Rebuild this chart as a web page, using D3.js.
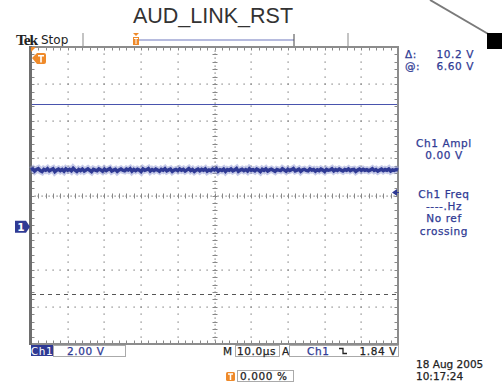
<!DOCTYPE html>
<html>
<head>
<meta charset="utf-8">
<script src="https://cdn.jsdelivr.net/npm/d3@7"></script>
<style>
  html, body { margin: 0; padding: 0; background: #fff; }
  svg { display: block; }
  .scr { font-family: "DejaVu Sans", sans-serif; font-size: 10.5px; letter-spacing: 0.6px; }
  .scr text { stroke-width: 0.25px; }
  .scr text.stamp { letter-spacing: 0px; }
</style>
</head>
<body>
<svg id="chart" width="502" height="384"></svg>
<script>
// ---- acquisition settings ----
const title = "AUD_LINK_RST";
const voltsPerDiv = 2.0;          // Ch1 scale
const timePerDiv = 10.0;          // µs
const groundOffsetDiv = -0.84;    // Ch1 ground position relative to screen centre
const triggerLevel = 1.84;        // V
const cursorAt = 6.60;            // V, active cursor
const cursorDelta = 10.2;         // V, distance to second cursor
const ampl = "0.00 V";

// ---- captured samples (µs spacing = 0.5, volts) ----
const traceV = [3.05,3.11,3.00,3.08,3.13,3.02,2.97,3.09,3.04,3.12,
                3.01,3.07,3.12,2.97,3.05,3.10,3.02,3.08,2.99,3.11,
                3.04,3.09,3.01,3.14,3.05,2.98,3.08,3.02,3.10,3.00,
                3.06,3.12,3.04,2.97,3.09,3.05,3.01,3.11,3.06,2.99,
                3.10,3.02,3.08,3.13,3.00,3.05,3.09,2.98,3.06,3.11,
                3.04,3.01,3.10,3.05,3.12,2.99,3.08,3.02,3.09,3.05,
                2.97,3.11,3.04,3.07,3.13,3.00,3.08,3.02,3.10,3.05,
                2.99,3.09,3.04,3.12,3.01,3.06,3.10,2.98,3.05,3.08,
                3.02,3.11,3.04,3.09,3.00,3.06,3.13,3.02,3.08,2.98,
                3.05,3.10,3.01,3.09,3.04,3.11,2.99,3.06,3.02,3.10,
                3.05,3.12,2.99,3.07,3.03,3.10,2.98,3.08,3.04,3.11,
                3.01,3.06,3.13,2.98,3.05,3.09,3.02,3.08,3.00,3.12,
                3.04,3.07,3.01,3.10,3.05,2.97,3.09,3.03,3.11,3.00,
                3.06,3.10,3.04,2.98,3.08,3.05,3.02,3.12,3.06,2.99,
                3.09,3.03,3.07,3.13,3.01,3.05,3.10,2.98,3.06,3.09,
                3.03,3.01,3.11,3.05,3.08,2.99,3.07,3.02,3.10,3.05,
                2.98,3.09,3.04,3.06,3.12,3.01,3.08,3.03,3.10,3.05,
                3.00,3.08,3.04,3.11,3.02,3.07,3.09,2.98,3.05,3.10,
                3.03,3.09,3.04,3.07,3.01,3.06,3.12,3.03,3.08,2.99,
                3.05,3.10,3.02,3.08,3.04,3.11,3.00,3.06,3.03,3.09,3.05];

// ---- readouts ----
const rightReadouts = [
  ["Ch1 Ampl", ampl],
  ["Ch1 Freq", "----.Hz", "No ref", "crossing"]
];
const dateText = "18 Aug 2005";
const timeText = "10:17:24";
const triggerPosText = "0.000 %";

const BLUE = "#2f3a94";
const ORANGE = "#ef8a2a";
const GRAY = "#8c8c8c";

const svg = d3.select("#chart");
svg.append("rect").attr("width", 502).attr("height", 384).attr("fill", "#fff");

// graticule frame
const L = 31, R = 398, T = 47, B = 344;
const nx = 10, ny = 8;
const gx = d3.scaleLinear().domain([0, nx]).range([L, R]);
const gy = d3.scaleLinear().domain([0, ny]).range([T, B]);

// data scales
const x = d3.scaleLinear().domain([0, nx * timePerDiv]).range([L, R]);
const vTop = (ny / 2 - groundOffsetDiv) * voltsPerDiv;
const y = d3.scaleLinear().domain([vTop - ny * voltsPerDiv, vTop]).range([B, T]);

// title and decoration
svg.append("text").attr("x", 213).attr("y", 23).attr("text-anchor", "middle")
  .attr("font-family", "Liberation Sans, Arial, sans-serif").attr("font-size", 21.5)
  .attr("fill", "#333").text(title);
svg.append("line").attr("x1", 430).attr("y1", 0).attr("x2", 490).attr("y2", 35)
  .attr("stroke", "#7a7a7a").attr("stroke-width", 2);
svg.append("rect").attr("x", 487).attr("y", 33).attr("width", 15).attr("height", 16).attr("fill", "#000");

// status line
svg.append("text").attr("x", 16).attr("y", 44.5)
  .attr("font-family", "Liberation Serif, serif").attr("font-weight", "bold")
  .attr("font-size", 15.5).attr("letter-spacing", -1.2).attr("fill", "#222").text("Tek");
svg.append("text").attr("x", 41).attr("y", 44)
  .attr("font-family", "DejaVu Sans, sans-serif").attr("font-size", 12)
  .attr("fill", "#222").text("Stop");
[83, 348].forEach(px => svg.append("line").attr("x1", px).attr("x2", px)
  .attr("y1", 33).attr("y2", 46).attr("stroke", "#c4c4c4").attr("stroke-width", 2));
svg.append("line").attr("x1", 138).attr("x2", 294).attr("y1", 40).attr("y2", 40)
  .attr("stroke", "#6f78be").attr("stroke-width", 1.2);
svg.append("line").attr("x1", 294).attr("x2", 294).attr("y1", 34).attr("y2", 46)
  .attr("stroke", "#444").attr("stroke-width", 1);
const rv = svg.append("g").attr("transform", "translate(133,33)");
rv.append("path").attr("d", "M0,0 H6 L3,3 Z").attr("fill", ORANGE);
rv.append("rect").attr("x", 0).attr("y", 4).attr("width", 6).attr("height", 8).attr("fill", ORANGE);
rv.append("path").attr("d", "M1,5.5 H5 M3,5.5 V11").attr("stroke", "#fff").attr("stroke-width", 1);

// graticule
const grid = svg.append("g");
const minorX = d3.range(0, nx * 5 + 1).map(i => i / 5);
const minorY = d3.range(0, ny * 5 + 1).map(i => i / 5);
const halfX = d3.range(0, nx * 10 + 1).map(i => i / 10);
const halfY = d3.range(0, ny * 10 + 1).map(i => i / 10);

d3.range(1, nx).filter(i => i !== nx / 2).forEach(i => {
  grid.selectAll(null).data(minorY.slice(1, -1)).join("rect")
    .attr("x", Math.round(gx(i)) - 0.5).attr("y", d => Math.round(gy(d)) - 0.5)
    .attr("width", 1.2).attr("height", 1.2).attr("fill", "#777");
});
d3.range(1, ny).filter(i => i !== ny / 2).forEach(i => {
  grid.selectAll(null).data(minorX.slice(1, -1)).join("rect")
    .attr("x", d => Math.round(gx(d)) - 0.5).attr("y", Math.round(gy(i)) - 0.5)
    .attr("width", 1.2).attr("height", 1.2).attr("fill", "#777");
});
// centre cross with ticks
const cx = Math.round(gx(nx / 2)), cy = Math.round(gy(ny / 2));
grid.selectAll(null).data(halfY).join("rect")
  .attr("x", cx - 0.5).attr("y", d => Math.round(gy(d)) - 0.5)
  .attr("width", 1.2).attr("height", 1.2).attr("fill", "#777");
grid.selectAll(null).data(halfX).join("rect")
  .attr("x", d => Math.round(gx(d)) - 0.5).attr("y", cy - 0.5)
  .attr("width", 1.2).attr("height", 1.2).attr("fill", "#777");
grid.selectAll(null).data(minorY).join("line")
  .attr("x1", cx - 2.5).attr("x2", cx + 2.5)
  .attr("y1", d => Math.round(gy(d)) + 0.5).attr("y2", d => Math.round(gy(d)) + 0.5)
  .attr("stroke", "#888").attr("stroke-width", 1);
grid.selectAll(null).data(minorX).join("line")
  .attr("y1", cy - 2.5).attr("y2", cy + 2.5)
  .attr("x1", d => Math.round(gx(d)) + 0.5).attr("x2", d => Math.round(gx(d)) + 0.5)
  .attr("stroke", "#888").attr("stroke-width", 1);
// border ticks
grid.selectAll(null).data(minorX).join("line")
  .attr("x1", d => Math.round(gx(d)) + 0.5).attr("x2", d => Math.round(gx(d)) + 0.5)
  .attr("y1", T).attr("y2", T + 3.5).attr("stroke", "#888");
grid.selectAll(null).data(minorX).join("line")
  .attr("x1", d => Math.round(gx(d)) + 0.5).attr("x2", d => Math.round(gx(d)) + 0.5)
  .attr("y1", B).attr("y2", B - 3.5).attr("stroke", "#888");
grid.selectAll(null).data(minorY).join("line")
  .attr("y1", d => Math.round(gy(d)) + 0.5).attr("y2", d => Math.round(gy(d)) + 0.5)
  .attr("x1", L).attr("x2", L + 3.5).attr("stroke", "#888");
grid.selectAll(null).data(minorY).join("line")
  .attr("y1", d => Math.round(gy(d)) + 0.5).attr("y2", d => Math.round(gy(d)) + 0.5)
  .attr("x1", R).attr("x2", R - 3.5).attr("stroke", "#888");
// frame
grid.append("rect").attr("x", L).attr("y", T).attr("width", R - L).attr("height", B - T)
  .attr("fill", "none").attr("stroke", GRAY).attr("stroke-width", 2);
grid.append("line").attr("x1", L - 0.5).attr("x2", L - 0.5).attr("y1", T - 1).attr("y2", B + 1)
  .attr("stroke", "#6e6e6e").attr("stroke-width", 3);

// cursors
svg.append("line").attr("x1", L + 1).attr("x2", R - 1)
  .attr("y1", Math.round(y(cursorAt)) + 0.5).attr("y2", Math.round(y(cursorAt)) + 0.5)
  .attr("stroke", "#4953ad").attr("stroke-width", 1);
svg.append("line").attr("x1", L + 1).attr("x2", R - 1)
  .attr("y1", Math.round(y(cursorAt - cursorDelta)) + 0.5).attr("y2", Math.round(y(cursorAt - cursorDelta)) + 0.5)
  .attr("stroke", "#555").attr("stroke-width", 1).attr("stroke-dasharray", "4,4");

// waveform
const line = d3.line().x((d, i) => x(i * (nx * timePerDiv) / (traceV.length - 1))).y(d => y(d));
svg.append("path").datum(traceV).attr("d", line).attr("fill", "none")
  .attr("stroke", "#8d95d2").attr("stroke-width", 7).attr("stroke-opacity", 0.5);
svg.append("path").datum(traceV).attr("d", line).attr("fill", "none")
  .attr("stroke", BLUE).attr("stroke-width", 3.5);

// trigger position marker (top-left)
svg.append("path").attr("d", `M${L},${T} h5 l-5,5 Z`).attr("fill", ORANGE);
const tp = svg.append("g").attr("transform", `translate(${L + 1},53)`);
tp.append("path").attr("d", "M0,5 L5,0 H12 Q14,0 14,2 V9 Q14,11 12,11 H5 Z").attr("fill", ORANGE);
tp.append("path").attr("d", "M6,2.8 H12 M9,2.8 V9.5").attr("stroke", "#fff").attr("stroke-width", 1.6);

// Ch1 ground marker
const gm = svg.append("g").attr("transform", `translate(15,${y(0) - 6})`);
gm.append("path").attr("d", "M0,0 H11 L15,6 L11,12 H0 Z").attr("fill", BLUE);
gm.append("text").attr("x", 6).attr("y", 10.5).attr("text-anchor", "middle")
  .attr("font-family", "DejaVu Sans, sans-serif").attr("font-weight", "bold")
  .attr("font-size", 10.5).attr("fill", "#fff").text("1");

// trigger level marker (right)
const ty = y(triggerLevel);
svg.append("path").attr("d", `M${R - 6},${ty} l5,-3.5 v7 Z`).attr("fill", BLUE);
svg.append("line").attr("x1", R - 2).attr("x2", R + 1).attr("y1", ty).attr("y2", ty).attr("stroke", BLUE);

// right readouts
const rt = svg.append("g").attr("class", "scr").attr("fill", BLUE).attr("stroke", BLUE);
rt.append("text").attr("x", 405).attr("y", 58).text("\u0394:");
rt.append("text").attr("x", 474).attr("y", 58).attr("text-anchor", "end").text(cursorDelta.toFixed(1) + " V");
rt.append("text").attr("x", 405).attr("y", 70).text("@:");
rt.append("text").attr("x", 474).attr("y", 70).attr("text-anchor", "end").text(cursorAt.toFixed(2) + " V");
const blockTops = [147, 198];
rightReadouts.forEach((lines, bi) => {
  lines.forEach((s, li) => rt.append("text").attr("x", 444).attr("y", blockTops[bi] + li * 12.2)
    .attr("text-anchor", "middle").text(s));
});

// bottom readouts
const bt = svg.append("g").attr("class", "scr");
bt.append("rect").attr("x", 31).attr("y", 345).attr("width", 22).attr("height", 11).attr("fill", BLUE);
bt.append("text").attr("x", 42).attr("y", 354.5).attr("text-anchor", "middle").attr("fill", "#fff").text("Ch1");
bt.append("rect").attr("x", 53.5).attr("y", 345.5).attr("width", 72).attr("height", 11)
  .attr("fill", "none").attr("stroke", "#aaa");
bt.append("text").attr("x", 67).attr("y", 354.5).attr("fill", BLUE).attr("stroke", BLUE)
  .text(voltsPerDiv.toFixed(2) + " V");

bt.append("text").attr("x", 223).attr("y", 354.5).attr("fill", "#222").attr("stroke", "#222").text("M");
bt.append("rect").attr("x", 235.5).attr("y", 345.5).attr("width", 44).attr("height", 11)
  .attr("fill", "none").attr("stroke", "#aaa");
bt.append("text").attr("x", 237).attr("y", 354.5).attr("fill", "#222").attr("stroke", "#222")
  .text(timePerDiv.toFixed(1) + "\u00b5s");

bt.append("text").attr("x", 282).attr("y", 354.5).attr("fill", "#222").attr("stroke", "#222").text("A");
bt.append("rect").attr("x", 289.5).attr("y", 345.5).attr("width", 109).attr("height", 11)
  .attr("fill", "none").attr("stroke", "#aaa");
bt.append("text").attr("x", 307).attr("y", 354.5).attr("fill", BLUE).attr("stroke", BLUE).text("Ch1");
bt.append("path").attr("d", "M339,348.5 H343 V353.5 H347").attr("fill", "none")
  .attr("stroke", "#222").attr("stroke-width", 1.3);
bt.append("text").attr("x", 397).attr("y", 354.5).attr("text-anchor", "end").attr("fill", "#222")
  .attr("stroke", "#222").text(triggerLevel.toFixed(2) + " V");

// trigger position readout
const tb = svg.append("g").attr("transform", "translate(226,372)");
tb.append("rect").attr("width", 9).attr("height", 9).attr("rx", 1.5).attr("fill", ORANGE);
tb.append("path").attr("d", "M2,2 H7 M4.5,2 V8").attr("stroke", "#fff").attr("stroke-width", 1.5);
bt.append("rect").attr("x", 237.5).attr("y", 370.5).attr("width", 56).attr("height", 11)
  .attr("fill", "none").attr("stroke", "#aaa");
bt.append("text").attr("x", 240).attr("y", 379.5).attr("fill", "#222").attr("stroke", "#222").text(triggerPosText);

bt.append("text").attr("class", "stamp").attr("x", 416).attr("y", 368)
  .attr("fill", "#222").attr("stroke", "#222").text(dateText);
bt.append("text").attr("class", "stamp").attr("x", 416).attr("y", 380)
  .attr("fill", "#222").attr("stroke", "#222").text(timeText);
</script>
</body>
</html>
